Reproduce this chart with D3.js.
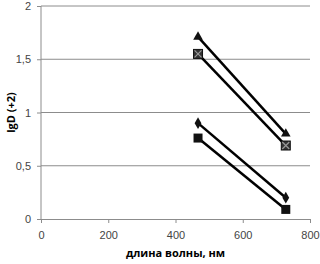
<!DOCTYPE html>
<html>
<head>
<meta charset="utf-8">
<script src="https://cdn.jsdelivr.net/npm/d3@7"></script>
<style>
  body { margin: 0; background: #fff; }
  svg { display: block; }
</style>
</head>
<body>
<div id="chart"></div>
<script>
// wavelengths, nm
var wavelengths = [467, 728];
// lgD (+2) for each series
var triangleVals = [1.71, 0.8];
var crossVals = [1.55, 0.69];
var diamondVals = [0.9, 0.2];
var squareVals = [0.76, 0.09];
var xTicks = [0, 200, 400, 600, 800];
var yTicks = [0, 0.5, 1, 1.5, 2];
var yTickLabels = ["0", "0,5", "1", "1,5", "2"];

var margin = {top: 6, right: 10, bottom: 45, left: 41},
    width = 320 - margin.left - margin.right,
    height = 264 - margin.top - margin.bottom;

var svg = d3.select("#chart").append("svg")
  .attr("width", 320)
  .attr("height", 264)
  .style("font-family", "'Open Sans', sans-serif");

var g = svg.append("g")
  .attr("transform", "translate(" + margin.left + "," + margin.top + ")");

var x = d3.scaleLinear().domain([0, 800]).range([0, 269]);
var y = d3.scaleLinear().domain([0, 2]).range([213, 0]);

// grid
g.selectAll(".grid").data(yTicks.slice(1)).enter().append("line")
  .attr("x1", 0).attr("x2", x(800))
  .attr("y1", function(d){ return y(d); })
  .attr("y2", function(d){ return y(d); })
  .style("stroke", "#8c8c8c").style("stroke-width", 1);

// y axis
var yAxis = d3.axisLeft(y).tickValues(yTicks)
  .tickFormat(function(d, i){ return yTickLabels[i]; })
  .tickSize(4).tickPadding(6);
var yG = g.append("g").call(yAxis);
yG.select(".domain").remove();
yG.selectAll(".tick line").style("stroke", "#8c8c8c").attr("x1", -4).attr("x2", 0);
yG.append("line").attr("x1", 0).attr("x2", 0).attr("y1", 0).attr("y2", y(0))
  .style("stroke", "#8c8c8c");

// x axis
var xAxis = d3.axisBottom(x).tickValues(xTicks).tickSize(4).tickPadding(8);
var xG = g.append("g").attr("transform", "translate(0," + y(0) + ")").call(xAxis);
xG.select(".domain").style("stroke", "#8c8c8c");
xG.selectAll(".tick line").style("stroke", "#8c8c8c");

svg.selectAll(".tick text").style("font-size", "11px").style("fill", "#444");

// lines
var line = d3.line()
  .x(function(d, i){ return x(wavelengths[i]); })
  .y(function(d){ return y(d); });

var allSeries = [triangleVals, crossVals, diamondVals, squareVals];
g.selectAll(".series").data(allSeries).enter().append("path")
  .attr("d", line)
  .style("fill", "none")
  .style("stroke", "#000")
  .style("stroke-width", 2.5);

// markers
function pts(vals){
  return vals.map(function(v, i){ return {x: x(wavelengths[i]), y: y(v)}; });
}

g.selectAll(".tri").data(pts(triangleVals)).enter().append("path")
  .attr("d", d3.symbol().type(d3.symbolTriangle).size(40))
  .attr("transform", function(d){ return "translate(" + d.x + "," + d.y + ")"; })
  .style("fill", "#111");

g.selectAll(".dia").data(pts(diamondVals)).enter().append("path")
  .attr("d", d3.symbol().type(d3.symbolDiamond).size(40))
  .attr("transform", function(d){ return "translate(" + d.x + "," + d.y + ")"; })
  .style("fill", "#111");

g.selectAll(".sq").data(pts(squareVals)).enter().append("rect")
  .attr("x", function(d){ return d.x - 4.5; })
  .attr("y", function(d){ return d.y - 4.5; })
  .attr("width", 9).attr("height", 9)
  .style("fill", "#111");

var cx = g.selectAll(".cx").data(pts(crossVals)).enter().append("g")
  .attr("transform", function(d){ return "translate(" + d.x + "," + d.y + ")"; });
cx.append("rect").attr("x", -4.5).attr("y", -4.5).attr("width", 9).attr("height", 9)
  .style("fill", "#333").style("stroke", "#111");
cx.append("path").attr("d", "M-3.5,-3.5L3.5,3.5M3.5,-3.5L-3.5,3.5")
  .style("stroke", "#999").style("stroke-width", 1.2);

// axis titles
svg.append("text")
  .attr("x", margin.left + x(400))
  .attr("y", 257)
  .attr("text-anchor", "middle")
  .style("font-size", "11px").style("font-weight", "bold")
  .text("длина волны, нм");

svg.append("text")
  .attr("transform", "translate(15," + (margin.top + y(1)) + ") rotate(-90)")
  .attr("text-anchor", "middle")
  .style("font-size", "11px").style("font-weight", "bold")
  .text("lgD (+2)");
</script>
</body>
</html>
